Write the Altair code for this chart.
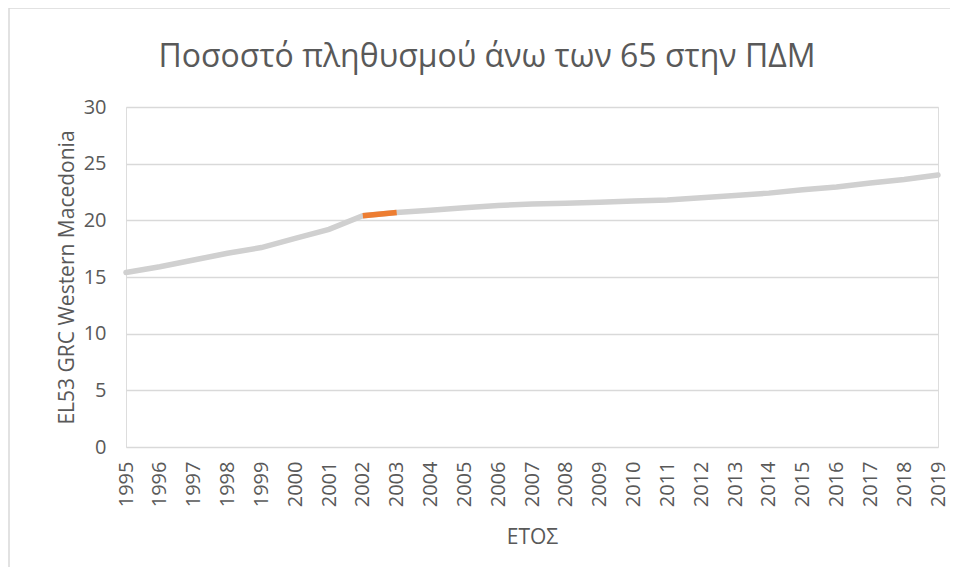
import altair as alt
import pandas as pd

years = [1995, 1996, 1997, 1998, 1999, 2000, 2001, 2002, 2003, 2004, 2005, 2006,
         2007, 2008, 2009, 2010, 2011, 2012, 2013, 2014, 2015, 2016, 2017, 2018, 2019]
values = [15.4, 15.9, 16.5, 17.1, 17.6, 18.4, 19.2, 20.4, 20.7, 20.9, 21.1, 21.3,
          21.45, 21.5, 21.6, 21.7, 21.8, 22.0, 22.2, 22.4, 22.7, 22.95, 23.3, 23.6, 24.0]
highlight_years = [2002, 2003]

title_text = "Ποσοστό πληθυσμού άνω των 65 στην ΠΔΜ"
y_title = "EL53 GRC Western Macedonia"
x_title = "ΕΤΟΣ"

df = pd.DataFrame({"year": [str(y) for y in years], "value": values})
df_hi = df[df["year"].isin([str(y) for y in highlight_years])]

FONT = "Open Sans"
TXT = "#595959"

x_enc = alt.X("year:O", title=x_title, sort=None,
              scale=alt.Scale(type="point", padding=0),
              axis=alt.Axis(labelAngle=-90, ticks=False, domain=False, grid=False,
                            labelPadding=14, labelFontSize=20, labelColor=TXT,
                            labelFont=FONT, titleFont=FONT, titleFontSize=21,
                            titleColor=TXT, titleFontWeight="normal", titlePadding=20))
y_enc = alt.Y("value:Q", title=y_title,
              scale=alt.Scale(domain=[0, 30], nice=False),
              axis=alt.Axis(values=[0, 5, 10, 15, 20, 25, 30], ticks=False, domain=False,
                            grid=True, gridColor="#D9D9D9", gridWidth=1.3,
                            labelPadding=20, labelFontSize=20, labelColor=TXT,
                            labelFont=FONT, titleFont=FONT, titleFontSize=21,
                            titleColor=TXT, titleFontWeight="normal", titlePadding=6))

frame = alt.Chart(pd.DataFrame({"a": [0]})).mark_rect(
    fillOpacity=0, stroke="#D9D9D9", strokeWidth=1.5
).encode(x=alt.value(-117), x2=alt.value(840), y=alt.value(-99), y2=alt.value(480))

title_mark = alt.Chart(pd.DataFrame({"t": [title_text]})).mark_text(
    font=FONT, fontSize=32, color=TXT, align="center", baseline="middle"
).encode(text="t:N", x=alt.value(361), y=alt.value(-50))

base_line = alt.Chart(df).mark_line(color="#D0D0D0", strokeWidth=5.5,
                                    strokeCap="round").encode(x=x_enc, y=y_enc)
hi_line = alt.Chart(df_hi).mark_line(color="#ED7D31", strokeWidth=5.5,
                                     strokeCap="butt").encode(x=x_enc, y=y_enc)

chart = alt.layer(base_line, hi_line, frame, title_mark).properties(
    width=812, height=340,
    autosize=alt.AutoSizeParams(type="none"),
    padding={"left": 118, "top": 99, "right": 12, "bottom": 120},
).configure_view(stroke=None).configure(background="white")

chart.save("out.html", embed_options={"renderer": "svg", "actions": False})
